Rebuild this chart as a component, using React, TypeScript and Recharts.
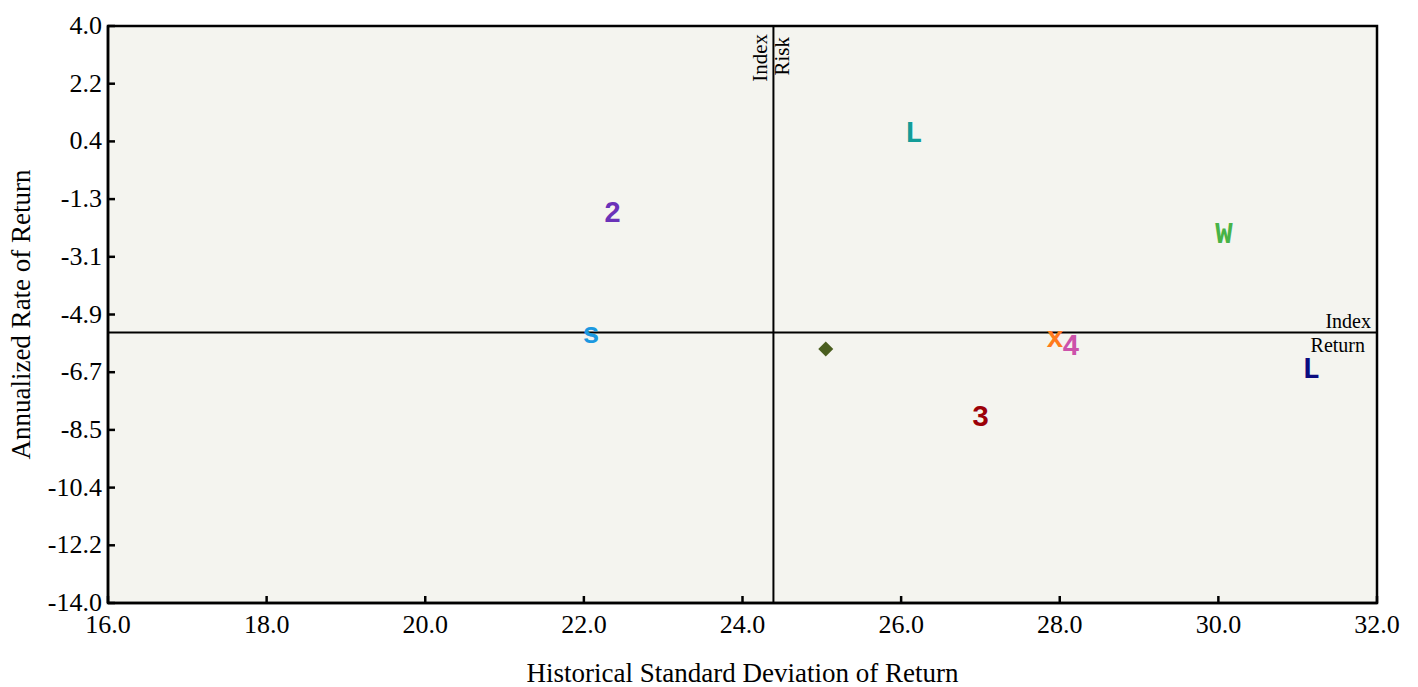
import { ReferenceArea, ReferenceLine, Scatter, ScatterChart, XAxis, YAxis } from "recharts"

const fundSymbols = ["2", "s", "L", "W", "x", "4", "L", "3", "diamond"]
const fundColors = ["#6a32b8", "#1b98e0", "#139c98", "#47b347", "#ff7b1c", "#cc52aa", "#0c0c80", "#9c0008", "#4a5e1f"]
const fundRisk = [22.36, 22.09, 26.16, 30.07, 27.94, 28.14, 31.17, 27.0, 25.05]
const fundReturn = [-1.8, -5.58, 0.69, -2.46, -5.7, -5.95, -6.68, -8.17, -6.08]

const indexRisk = 24.39
const indexReturn = -5.56

const xTicks = [16, 18, 20, 22, 24, 26, 28, 30, 32]
const yTicks = [-14, -12.2, -10.4, -8.6, -6.8, -5.0, -3.2, -1.4, 0.4, 2.2, 4.0]
const yTickLabels = ["-14.0", "-12.2", "-10.4", "-8.5", "-6.7", "-4.9", "-3.1", "-1.3", "0.4", "2.2", "4.0"]

const SERIF = "'Liberation Serif', 'Times New Roman', serif"
const MONO = "'Liberation Mono', 'Courier New', monospace"

const points = fundSymbols.map((s, i) => ({
  symbol: s,
  color: fundColors[i],
  risk: fundRisk[i],
  ret: fundReturn[i],
}))

function YTick({ x, y, payload }: any) {
  const idx = yTicks.findIndex((t) => Math.abs(t - payload.value) < 1e-6)
  return (
    <g>
      <line x1={x} x2={x + 7} y1={y} y2={y} stroke="#000" strokeWidth={2.5} />
      <text x={x - 6} y={y} dy={8} textAnchor="end" fontSize={26} fontFamily={SERIF} fill="#000">
        {idx >= 0 ? yTickLabels[idx] : payload.value}
      </text>
    </g>
  )
}

function XTick({ x, y, payload }: any) {
  return (
    <g>
      <line x1={x} x2={x} y1={y} y2={y - 7} stroke="#000" strokeWidth={2.5} />
      <text x={x} y={y} dy={30} textAnchor="middle" fontSize={26} fontFamily={SERIF} fill="#000">
        {payload.value.toFixed(1)}
      </text>
    </g>
  )
}

function FundMarker(props: any) {
  const { cx, cy, payload } = props
  if (payload.symbol === "diamond") {
    const r = 7.5
    return (
      <path
        d={`M${cx},${cy - r}L${cx + r},${cy}L${cx},${cy + r}L${cx - r},${cy}Z`}
        fill={payload.color}
      />
    )
  }
  return (
    <text
      x={cx}
      y={cy}
      dy={10}
      textAnchor="middle"
      fontSize={29}
      fontWeight="bold"
      fontFamily={MONO}
      fill={payload.color}
    >
      {payload.symbol}
    </text>
  )
}

export default function App() {
  return (
    <div style={{ position: "absolute", left: 0, top: 0, background: "#fff" }}>
      <ScatterChart width={1418} height={687} margin={{ top: 26, right: 41, bottom: 0, left: 0 }}>
        <XAxis
          type="number"
          dataKey="risk"
          domain={[16, 32]}
          ticks={xTicks}
          height={84}
          tickSize={0}
          tickMargin={0}
          tickLine={false}
          axisLine={{ stroke: "#000", strokeWidth: 2.5 }}
          tick={<XTick />}
          allowDataOverflow
          label={{
            content: ({ viewBox }: any) => (
              <text
                x={viewBox.x + viewBox.width / 2}
                y={viewBox.y + 79}
                textAnchor="middle"
                fontSize={27}
                fontFamily={SERIF}
                fill="#000"
              >
                Historical Standard Deviation of Return
              </text>
            ),
          }}
        />
        <YAxis
          type="number"
          dataKey="ret"
          domain={[-14, 4]}
          ticks={yTicks}
          width={108}
          tickSize={0}
          tickMargin={0}
          tickLine={false}
          axisLine={{ stroke: "#000", strokeWidth: 2.5 }}
          tick={<YTick />}
          allowDataOverflow
          label={{
            content: ({ viewBox }: any) => {
              const cx = 30
              const cy = viewBox.y + viewBox.height / 2
              return (
                <text
                  x={cx}
                  y={cy}
                  transform={`rotate(-90 ${cx} ${cy})`}
                  textAnchor="middle"
                  fontSize={27}
                  fontFamily={SERIF}
                  fill="#000"
                >
                  Annualized Rate of Return
                </text>
              )
            },
          }}
        />
        <ReferenceArea
          x1={16}
          x2={32}
          y1={-14}
          y2={4}
          fill="#f4f4ef"
          fillOpacity={1}
          stroke="#000"
          strokeWidth={2.5}
        />
        <ReferenceLine
          x={indexRisk}
          stroke="#000"
          strokeWidth={2}
          label={{
            content: ({ viewBox }: any) => {
              const lx = viewBox.x
              const ty = viewBox.y + 8
              return (
                <g fontSize={21} fontFamily={SERIF} fill="#000">
                  <text x={lx - 6} y={ty} transform={`rotate(-90 ${lx - 6} ${ty})`} textAnchor="end">
                    Index
                  </text>
                  <text x={lx + 16} y={ty + 3} transform={`rotate(-90 ${lx + 16} ${ty + 3})`} textAnchor="end">
                    Risk
                  </text>
                </g>
              )
            },
          }}
        />
        <ReferenceLine
          y={indexReturn}
          stroke="#000"
          strokeWidth={2}
          label={{
            content: ({ viewBox }: any) => {
              const rx = viewBox.x + viewBox.width
              const ly = viewBox.y
              return (
                <g fontSize={20} fontFamily={SERIF} fill="#000">
                  <text x={rx - 6} y={ly - 4} textAnchor="end">
                    Index
                  </text>
                  <text x={rx - 12} y={ly + 20} textAnchor="end">
                    Return
                  </text>
                </g>
              )
            },
          }}
        />
        <Scatter data={points} shape={<FundMarker />} isAnimationActive={false} />
      </ScatterChart>
    </div>
  )
}
